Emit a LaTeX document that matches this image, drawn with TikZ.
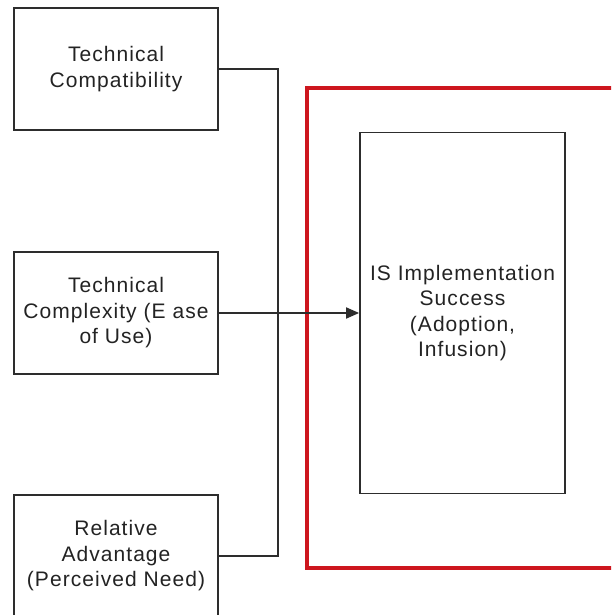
\documentclass[tikz,border=0pt]{standalone}
\usepackage{fontspec}
\setmainfont{Liberation Sans}
\newfontfamily\boxfont[LetterSpace=5]{Liberation Sans}
\usetikzlibrary{arrows.meta}
\definecolor{linegray}{RGB}{45,45,45}
\definecolor{textgray}{RGB}{35,35,35}
\definecolor{framered}{RGB}{205,22,30}
\tikzset{
  factor/.style={draw=linegray, line width=1.8pt, rectangle, align=center,
    text=textgray, minimum width=204pt, minimum height=122pt, inner sep=0pt,
    font=\boxfont\fontsize{21}{25.5}\selectfont},
  outcome/.style={factor, minimum width=205pt, minimum height=361pt},
  wire/.style={draw=linegray, line width=1.8pt},
  arrowwire/.style={wire, -{Triangle[length=13pt,width=11pt]}}
}
\begin{document}
\begin{tikzpicture}[x=1pt,y=-1pt]
  \clip (0,0) rectangle (611,615);
  \fill[white] (0,0) rectangle (611,615);

  % red frame around the outcome, open past the right edge
  \draw[framered, line width=3.5pt] (640,88) -- (307,88) -- (307,568) -- (640,568);

  % antecedent factors
  \node[factor] (compat) at (116,69) {Technical\\Compatibility};
  \node[factor] (complex) at (116,313) {Technical\\Complexity (E ase\\of Use)};
  \node[factor] (advant) at (116,556) {Relative\\Advantage\\(Perceived Need)};

  % outcome
  \node[outcome] (success) at (462.5,313) {IS Implementation\\Success\\(Adoption,\\Infusion)};

  % connectors
  \coordinate (bus) at (278,0);
  \draw[wire] (compat.east) -| (bus |- advant.east) -- (advant.east);
  \draw[arrowwire] (complex.east) -- (success.west);
\end{tikzpicture}
\end{document}
